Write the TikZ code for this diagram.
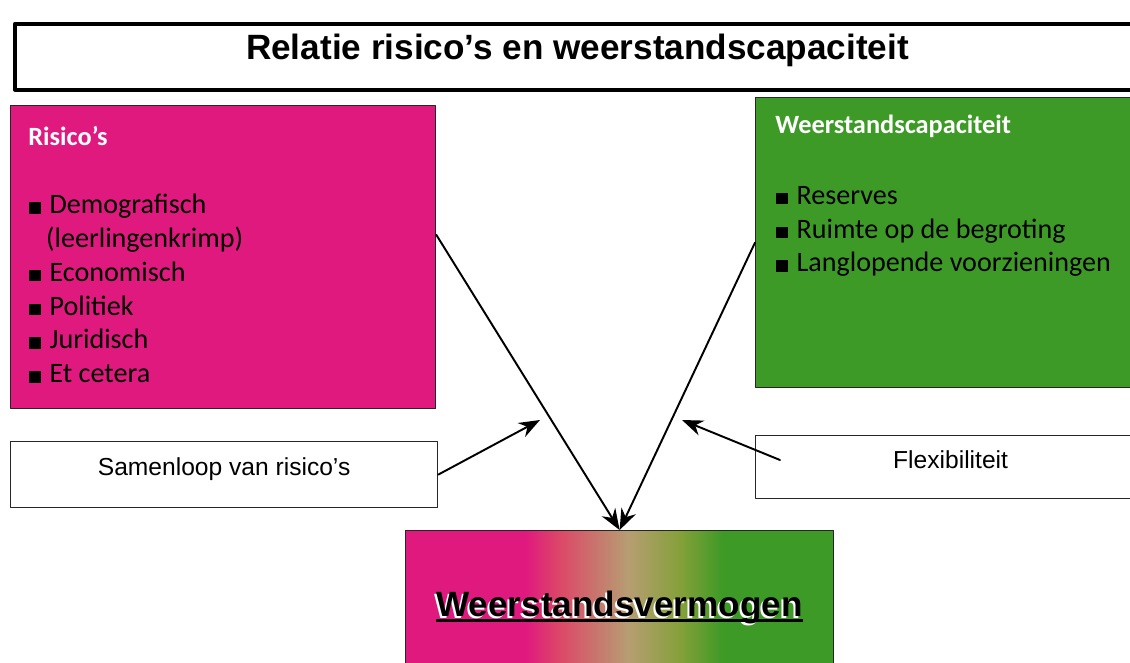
\documentclass[tikz,border=0pt]{standalone}
\usepackage{fontspec}
\setmainfont{Liberation Sans}
\newfontfamily\boxfont{Carlito}
\usetikzlibrary{positioning,arrows.meta}
\definecolor{riskpink}{HTML}{E0197E}
\definecolor{capgreen}{HTML}{3E9A26}
\definecolor{midtan}{HTML}{B69E72}
\definecolor{midred}{HTML}{DC4868}
\definecolor{midolive}{HTML}{86A03A}
% pink -> tan -> green, middle half of the shading covers the box
\pgfdeclarehorizontalshading{wvshade}{100bp}{color(0bp)=(riskpink); color(39bp)=(riskpink);
  color(43bp)=(midred); color(51bp)=(midtan); color(57bp)=(midolive);
  color(62bp)=(capgreen); color(100bp)=(capgreen)}
\newcommand\sqbul{\rule{6.5pt}{6.5pt}\hspace{5pt}}
\newcommand\shadowtext[1]{\setbox0\hbox{#1}%
  \makebox[0pt][l]{\hspace{-1.2pt}\raisebox{-1.2pt}{\color{white}\copy0}}%
  \makebox[0pt][l]{\rule[-3.5pt]{\wd0}{1.6pt}}\box0}
\begin{document}
\begin{tikzpicture}[line cap=round,line join=round]
  \tikzset{
    frame/.style={draw=black!85,line width=0.7pt,anchor=north west,inner sep=0pt},
    titlebox/.style={frame,draw=black,line width=2pt},
    riskbox/.style={frame,fill=riskpink},
    capbox/.style={frame,fill=capgreen},
    notebox/.style={frame,fill=white,font=\fontsize{14}{16}\selectfont},
    wvbox/.style={frame,shading=wvshade,font=\bfseries\fontsize{20}{24}\selectfont},
    boxhead/.style={anchor=base west,inner sep=0pt,text=white,font=\boxfont\bfseries\fontsize{15}{18}\selectfont},
    boxlist/.style={anchor=north west,inner sep=0pt,align=left,font=\boxfont\fontsize{16}{19.2}\selectfont},
    link/.style={draw=black,line width=1.1pt,-{Stealth[length=12pt,width=9pt]}}
  }
  \useasboundingbox (0,0) rectangle (22.6,-13.24);
  \clip (0,0) rectangle (22.6,-13.24);
  % title bar, runs off the right edge
  \node[titlebox,minimum width=23cm,minimum height=1.32cm] (title) at (0.26,-0.44) {};
  \node[font=\bfseries\fontsize{20}{24}\selectfont] (titletext) at (11.55,-1.0)
    {Relatie risico’s en weerstandscapaciteit};
  % the two coloured boxes
  \node[riskbox,minimum width=8.5cm,minimum height=6.06cm] (risk) at (0.2,-2.1) {};
  \node[capbox,minimum width=7.8cm,minimum height=5.8cm] (cap) at (15.1,-1.94) {};
  \node[boxhead] (riskhead) at (0.56,-2.9) {Risico’s};
  \node[boxlist] (risklist) at (0.58,-3.88)
    {\sqbul Demografisch\\ \hspace*{9.5pt}(leerlingenkrimp)\\ \sqbul Economisch\\
     \sqbul Politiek\\ \sqbul Juridisch\\ \sqbul Et cetera};
  \node[boxhead] (caphead) at (15.5,-2.66) {Weerstandscapaciteit};
  \node[boxlist] (caplist) at (15.52,-3.72)
    {\sqbul Reserves\\ \sqbul Ruimte op de begroting\\ \sqbul Langlopende voorzieningen};
  % the two notes, text sits a little above the middle
  \node[notebox,minimum width=8.54cm,minimum height=1.32cm,text depth=9pt] (samen) at (0.2,-8.82)
    {Samenloop van risico’s};
  \node[notebox,minimum width=7.8cm,minimum height=1.26cm,text depth=9pt] (flex) at (15.1,-8.7)
    {Flexibiliteit};
  % result box, runs off the bottom edge
  \node[wvbox,minimum width=8.56cm,minimum height=3.1cm] (wv) at (8.1,-10.6)
    {\shadowtext{Weerstandsvermogen}};
  % connectors
  \coordinate (samenend) at (10.8,-8.4);
  \coordinate (flexstart) at (15.6,-9.2);
  \coordinate (flexend) at (13.64,-8.4);
  \draw[link] (risk.6.6) -- (wv.north);
  \draw[link] (cap.west) -- (wv.north);
  \draw[link] (samen.east) -- (samenend);
  \draw[link] (flexstart) -- (flexend);
\end{tikzpicture}
\end{document}
